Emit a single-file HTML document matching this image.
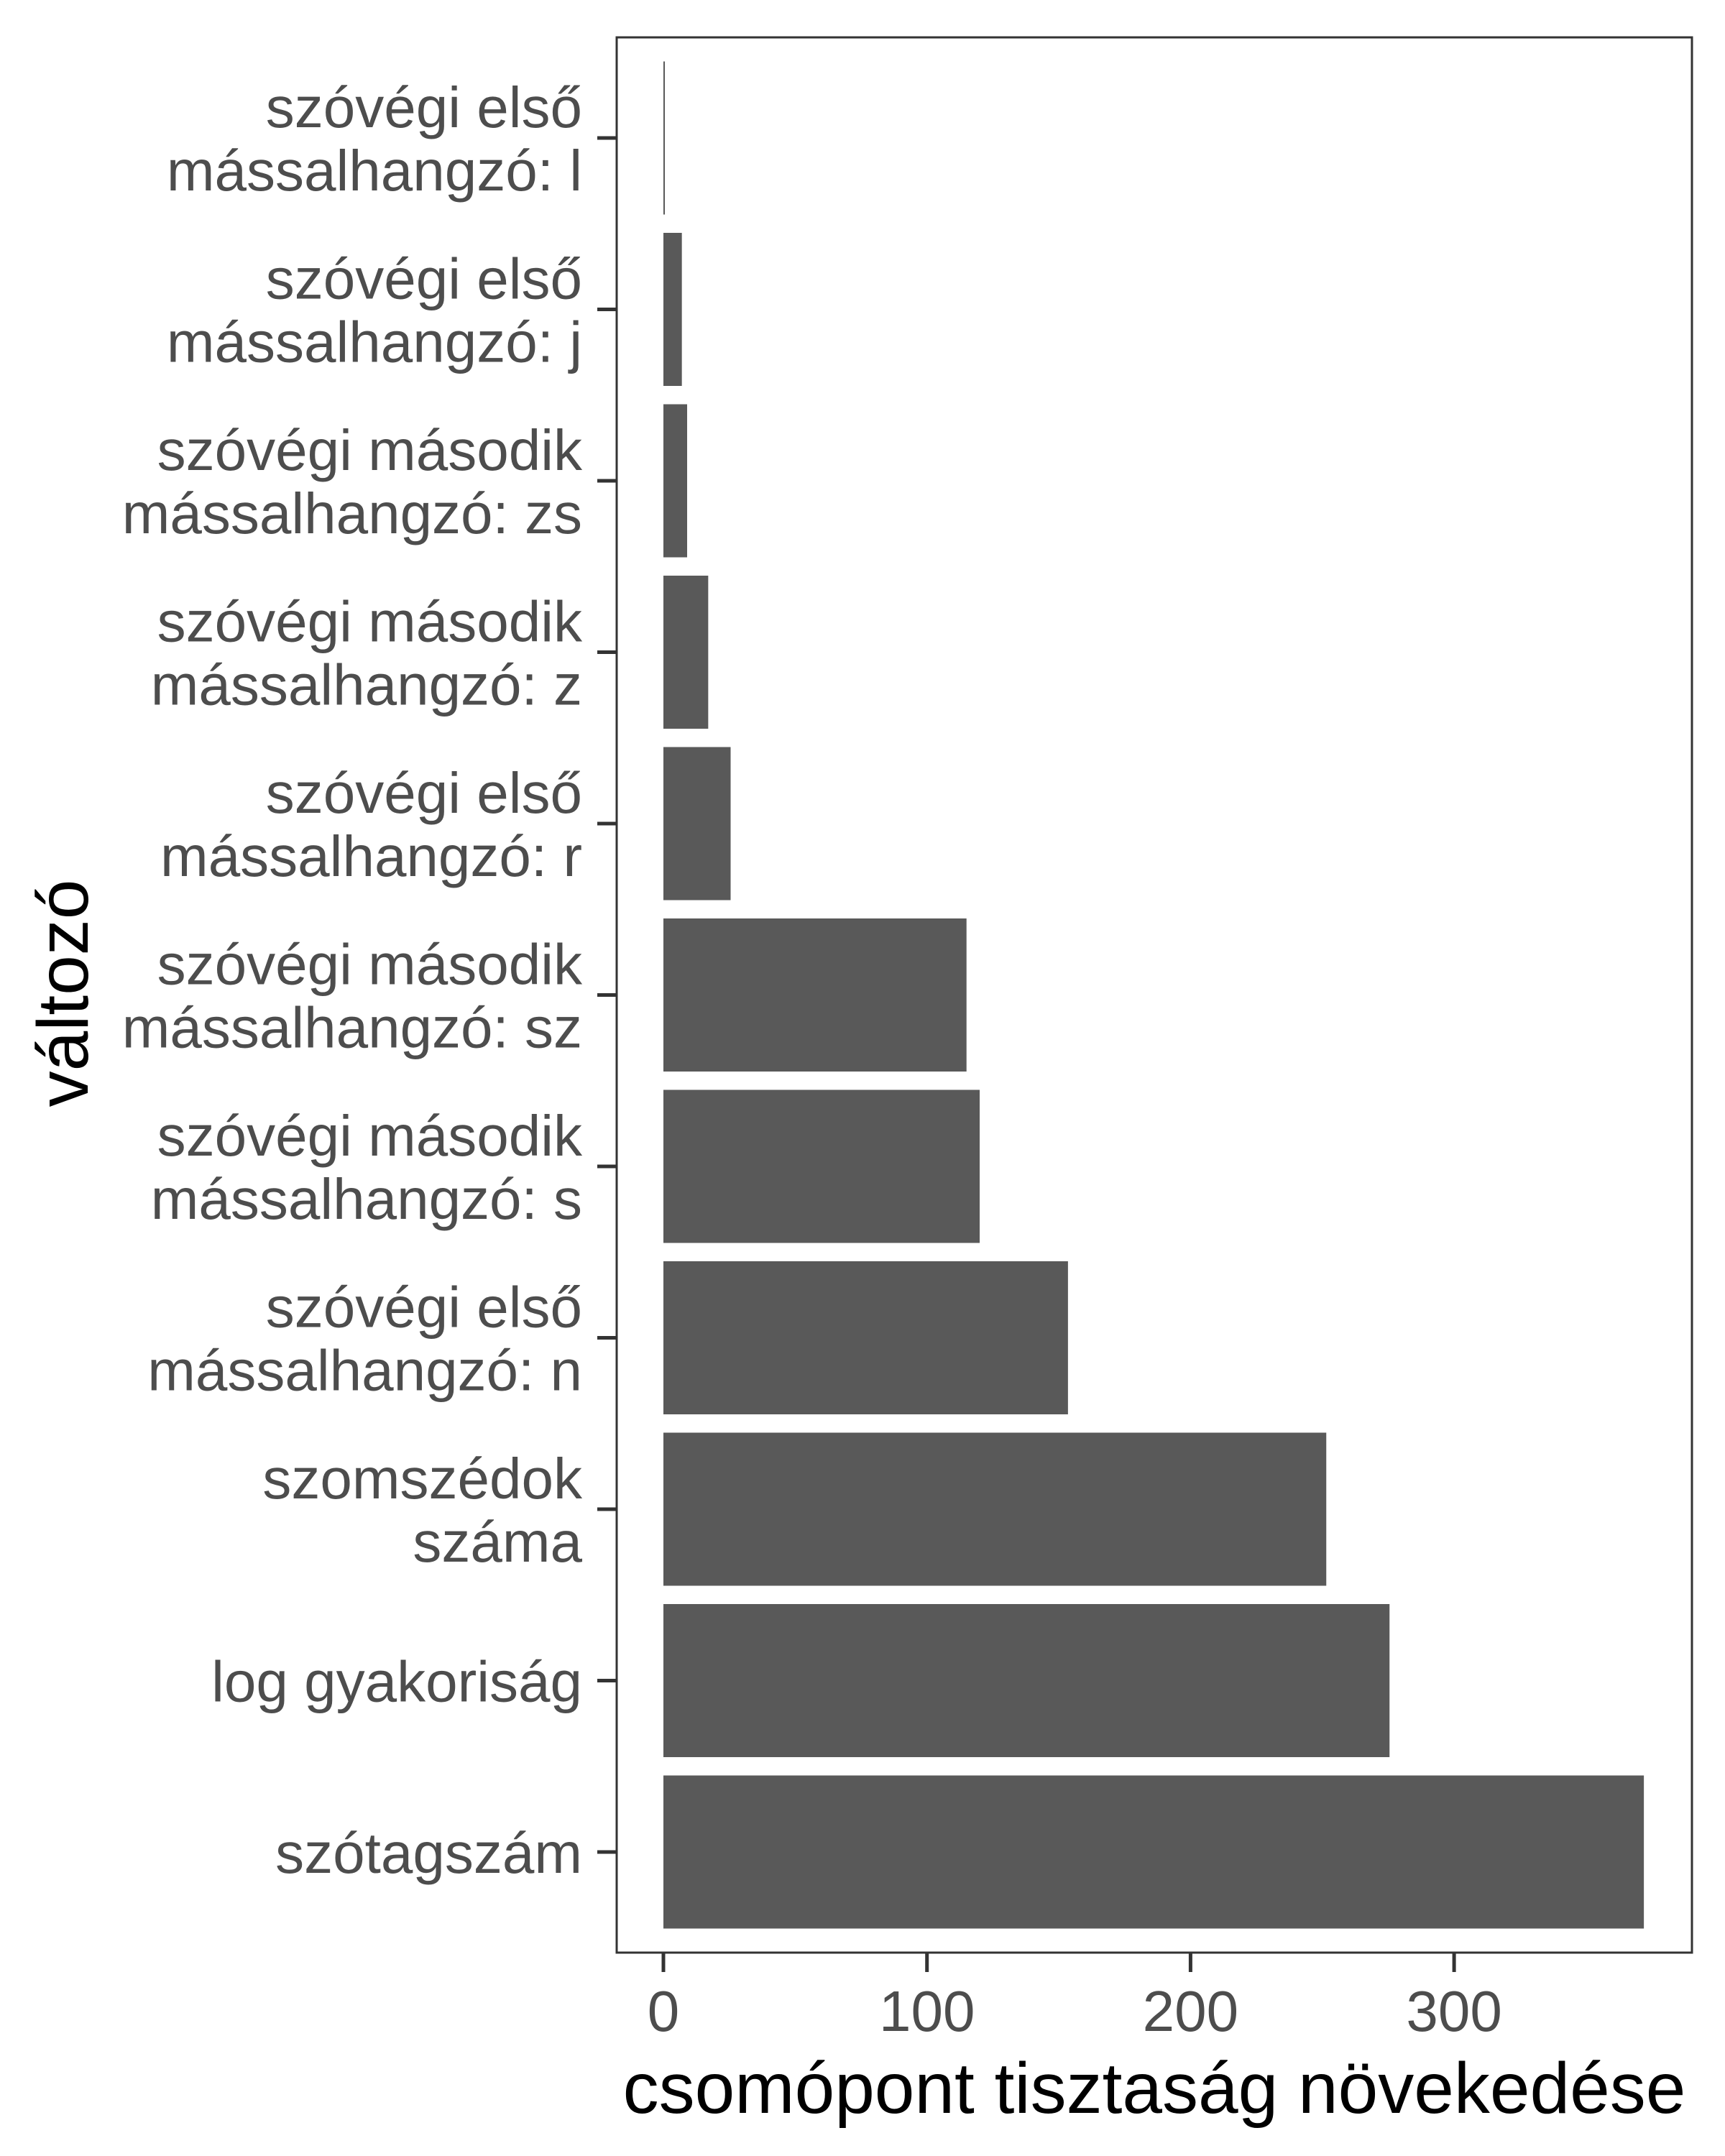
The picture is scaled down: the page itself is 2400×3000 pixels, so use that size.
<!DOCTYPE html>
<html><head><meta charset="utf-8"><style>body{margin:0;background:#fff}svg{display:block}</style></head>
<body>
<svg id="chart" width="2400" height="3000" viewBox="0 0 2400 3000" xmlns="http://www.w3.org/2000/svg" font-family="Liberation Sans, sans-serif">
<rect width="2400" height="3000" fill="#fff"/>
<g id="bars"></g>
<rect x="858" y="52" width="1496" height="2665" fill="none" stroke="#333" stroke-width="3"/>
<g id="axes"></g>
<text transform="translate(122,1382) rotate(-90)" text-anchor="middle" font-size="100" fill="#000">változó</text>
<text x="1606" y="2940" text-anchor="middle" font-size="100" fill="#000">csomópont tisztaság növekedése</text>
</svg>
<script>
const categories = [
 ["szóvégi első","mássalhangzó: l"],
 ["szóvégi első","mássalhangzó: j"],
 ["szóvégi második","mássalhangzó: zs"],
 ["szóvégi második","mássalhangzó: z"],
 ["szóvégi első","mássalhangzó: r"],
 ["szóvégi második","mássalhangzó: sz"],
 ["szóvégi második","mássalhangzó: s"],
 ["szóvégi első","mássalhangzó: n"],
 ["szomszédok","száma"],
 ["log gyakoriság"],
 ["szótagszám"]
];
const values = [0.5, 7, 9, 17, 25.5, 115, 120, 153.5, 251.5, 275.5, 372];
const xTicks = [0, 100, 200, 300];

const NS = "http://www.w3.org/2000/svg";
const x0 = 923, xPer = 3.667;
const xScale = v => x0 + v * xPer;
const yTop = 192, yStep = 238.5, barH = 213;
const yScale = i => yTop + i * yStep;
const bars = document.getElementById('bars');
const axes = document.getElementById('axes');
function mk(tag, attrs, parent){const e=document.createElementNS(NS,tag);for(const k in attrs)e.setAttribute(k,attrs[k]);parent.appendChild(e);return e;}

values.forEach((v,i)=>{
  const w = Math.max(xScale(v)-x0, 2);
  const r = mk('rect',{x:x0,y:yScale(i)-barH/2,width:w,height:barH,fill:'#595959'},bars);
  
  
});
categories.forEach((lines,i)=>{
  const c = yScale(i);
  const t = mk('line',{x1:831,x2:858,y1:c,y2:c,stroke:'#333','stroke-width':5},axes);
  
  
  const txt = mk('text',{x:810,'text-anchor':'end','font-size':80,fill:'#4d4d4d'},axes);
  
  
  const start = c + 29 - (lines.length-1)*44;
  lines.forEach((s,j)=>{
    const ts = mk('tspan',{x:810,y:start+j*88},txt);
    ts.textContent = s;
  });
});
xTicks.forEach(v=>{
  const x = xScale(v);
  const t = mk('line',{x1:x,x2:x,y1:2717,y2:2744,stroke:'#333','stroke-width':5},axes);
  
  
  const l = mk('text',{x:x,y:2826,'text-anchor':'middle','font-size':80,fill:'#4d4d4d'},axes);
  
  
  l.textContent = v;
});
</script>
</body></html>
